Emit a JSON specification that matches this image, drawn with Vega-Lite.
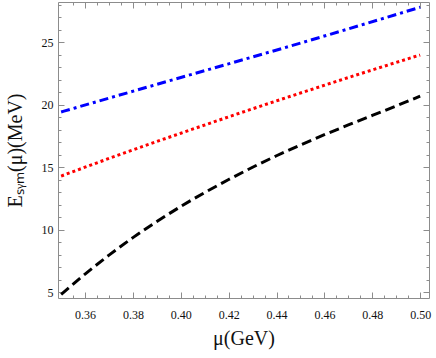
{
  "$schema": "https://vega.github.io/schema/vega-lite/v6.json",
  "width": 371,
  "height": 296,
  "autosize": {"type": "none"},
  "padding": {"left": 58, "top": 2, "right": 7, "bottom": 60},
  "background": "white",
  "config": {
    "view": {"stroke": "#8c8c8c", "strokeWidth": 1},
    "axis": {
      "domain": false,
      "grid": false,
      "tickColor": "#8c8c8c",
      "labelFont": "Liberation Serif",
      "labelFontSize": 12,
      "labelColor": "#111",
      "titleFont": "Liberation Serif",
      "titleFontSize": 20,
      "titleFontWeight": "normal",
      "titleColor": "#111"
    }
  },
  "data": {
    "values": [
      {"mu": 0.35, "E": 4.85, "s": "black"},
      {"mu": 0.36, "E": 6.47, "s": "black"},
      {"mu": 0.37, "E": 7.98, "s": "black"},
      {"mu": 0.38, "E": 9.38, "s": "black"},
      {"mu": 0.39, "E": 10.67, "s": "black"},
      {"mu": 0.40, "E": 11.87, "s": "black"},
      {"mu": 0.41, "E": 12.98, "s": "black"},
      {"mu": 0.42, "E": 14.02, "s": "black"},
      {"mu": 0.43, "E": 15.0, "s": "black"},
      {"mu": 0.44, "E": 15.92, "s": "black"},
      {"mu": 0.45, "E": 16.78, "s": "black"},
      {"mu": 0.46, "E": 17.6, "s": "black"},
      {"mu": 0.47, "E": 18.38, "s": "black"},
      {"mu": 0.48, "E": 19.14, "s": "black"},
      {"mu": 0.49, "E": 19.9, "s": "black"},
      {"mu": 0.50, "E": 20.68, "s": "black"},
      {"mu": 0.35, "E": 14.3, "s": "red"},
      {"mu": 0.375, "E": 16.05, "s": "red"},
      {"mu": 0.40, "E": 17.72, "s": "red"},
      {"mu": 0.425, "E": 19.35, "s": "red"},
      {"mu": 0.45, "E": 20.93, "s": "red"},
      {"mu": 0.475, "E": 22.47, "s": "red"},
      {"mu": 0.50, "E": 23.97, "s": "red"},
      {"mu": 0.35, "E": 19.42, "s": "blue"},
      {"mu": 0.40, "E": 22.17, "s": "blue"},
      {"mu": 0.45, "E": 24.92, "s": "blue"},
      {"mu": 0.50, "E": 27.78, "s": "blue"}
    ]
  },
  "resolve": {"axis": {"x": "independent", "y": "independent"}},
  "layer": [
    {
      "mark": {"type": "line", "strokeWidth": 3, "interpolate": "natural"},
      "encoding": {
        "x": {"field": "mu", "type": "quantitative",
          "scale": {"domain": [0.3487, 0.5037], "nice": false, "zero": false},
          "axis": {"orient": "bottom", "values": [0.36, 0.38, 0.40, 0.42, 0.44, 0.46, 0.48, 0.50], "format": ".2f", "tickSize": -6, "labelPadding": 17, "labelFont": "Liberation Serif", "title": "μ(GeV)", "titlePadding": 8}},
        "y": {"field": "E", "type": "quantitative",
          "scale": {"domain": [4.56, 28.2], "nice": false, "zero": false},
          "axis": {"orient": "left", "values": [5, 10, 15, 20, 25], "tickSize": -6, "labelPadding": 11, "labelFont": "Liberation Serif", "title": "Eₛᵧₘ(μ)(MeV)", "titlePadding": 16}},
        "color": {"field": "s", "type": "nominal", "legend": null,
          "scale": {"domain": ["black", "red", "blue"], "range": ["#000000", "#ff0000", "#0000ff"]}},
        "strokeDash": {"field": "s", "type": "nominal", "legend": null,
          "scale": {"domain": ["black", "red", "blue"], "range": [[10, 5], [3, 3], [9, 4, 3, 4]]}}
      }
    },
    {
      "mark": {"type": "point", "opacity": 0},
      "encoding": {
        "x": {"field": "mu", "type": "quantitative",
          "axis": {"orient": "bottom", "values": [0.355, 0.365, 0.37, 0.375, 0.385, 0.39, 0.395, 0.405, 0.41, 0.415, 0.425, 0.43, 0.435, 0.445, 0.45, 0.455, 0.465, 0.47, 0.475, 0.485, 0.49, 0.495], "labels": false, "tickSize": -3, "title": null}},
        "y": {"field": "E", "type": "quantitative",
          "axis": {"orient": "left", "values": [6, 7, 8, 9, 11, 12, 13, 14, 16, 17, 18, 19, 21, 22, 23, 24, 26, 27, 28], "labels": false, "tickSize": -3, "title": null}}
      }
    },
    {
      "mark": {"type": "point", "opacity": 0},
      "encoding": {
        "x": {"field": "mu", "type": "quantitative",
          "axis": {"orient": "top", "values": [0.36, 0.38, 0.40, 0.42, 0.44, 0.46, 0.48, 0.50], "labels": false, "tickSize": -6, "title": null}},
        "y": {"field": "E", "type": "quantitative",
          "axis": {"orient": "right", "values": [5, 10, 15, 20, 25], "labels": false, "tickSize": -6, "title": null}}
      }
    },
    {
      "mark": {"type": "point", "opacity": 0},
      "encoding": {
        "x": {"field": "mu", "type": "quantitative",
          "axis": {"orient": "top", "values": [0.355, 0.365, 0.37, 0.375, 0.385, 0.39, 0.395, 0.405, 0.41, 0.415, 0.425, 0.43, 0.435, 0.445, 0.45, 0.455, 0.465, 0.47, 0.475, 0.485, 0.49, 0.495], "labels": false, "tickSize": -3, "title": null}},
        "y": {"field": "E", "type": "quantitative",
          "axis": {"orient": "right", "values": [6, 7, 8, 9, 11, 12, 13, 14, 16, 17, 18, 19, 21, 22, 23, 24, 26, 27, 28], "labels": false, "tickSize": -3, "title": null}}
      }
    }
  ]
}
